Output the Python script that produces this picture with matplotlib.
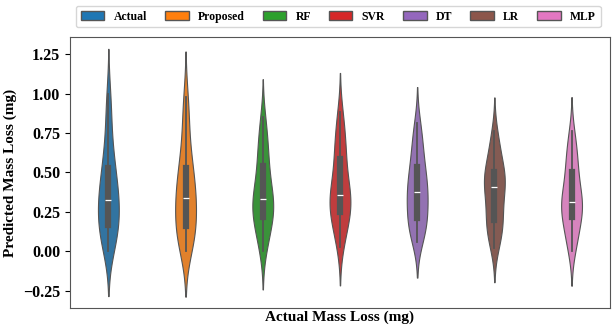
import matplotlib
matplotlib.use("Agg")
import matplotlib.pyplot as plt
import matplotlib.patches as mpatches
import numpy as np
import pandas as pd
import seaborn as sns

# model names shown in legend
models = ["Actual", "Proposed", "RF", "SVR", "DT", "LR", "MLP"]

actual = [0.0, 0.03, 0.07, 0.10, 0.13, 0.15, 0.17, 0.20, 0.23, 0.26, 0.29, 0.31, 0.325,
          0.35, 0.38, 0.41, 0.45, 0.50, 0.53, 0.56, 0.62, 0.70, 0.80, 0.90, 1.00]
proposed = [0.0, 0.02, 0.06, 0.09, 0.12, 0.14, 0.16, 0.19, 0.22, 0.25, 0.29, 0.32, 0.34,
            0.36, 0.39, 0.42, 0.46, 0.50, 0.53, 0.57, 0.63, 0.71, 0.81, 0.90, 0.98]
rf = [0.0, 0.05, 0.10, 0.14, 0.17, 0.20, 0.22, 0.24, 0.26, 0.28, 0.30, 0.32, 0.33,
      0.35, 0.38, 0.41, 0.45, 0.49, 0.54, 0.58, 0.62, 0.67, 0.72, 0.78, 0.85]
svr = [0.03, 0.08, 0.13, 0.17, 0.20, 0.23, 0.25, 0.27, 0.29, 0.31, 0.33, 0.35, 0.36,
       0.38, 0.41, 0.45, 0.49, 0.54, 0.585, 0.62, 0.66, 0.71, 0.76, 0.82, 0.885]
dt = [0.06, 0.09, 0.12, 0.15, 0.17, 0.19, 0.21, 0.24, 0.27, 0.30, 0.33, 0.36, 0.375,
      0.39, 0.41, 0.44, 0.47, 0.50, 0.535, 0.57, 0.61, 0.66, 0.71, 0.76, 0.815]
lr = [0.02, 0.06, 0.10, 0.13, 0.16, 0.18, 0.20, 0.23, 0.26, 0.30, 0.34, 0.38, 0.41,
      0.42, 0.43, 0.45, 0.47, 0.49, 0.50, 0.53, 0.57, 0.61, 0.65, 0.70, 0.76]
mlp = [0.0, 0.04, 0.08, 0.12, 0.15, 0.18, 0.215, 0.24, 0.26, 0.28, 0.29, 0.30, 0.31,
       0.33, 0.36, 0.39, 0.42, 0.46, 0.50, 0.53, 0.57, 0.61, 0.65, 0.70, 0.76]

yticks = [-0.25, 0.0, 0.25, 0.5, 0.75, 1.0, 1.25]

series = [actual, proposed, rf, svr, dt, lr, mlp]
df = pd.DataFrame({
    "Model": np.repeat(models, [len(s) for s in series]),
    "Value": np.concatenate(series),
})

plt.rcParams["font.family"] = ["Liberation Serif", "DejaVu Serif"]
plt.rcParams["font.weight"] = "bold"

palette = sns.color_palette("tab10", len(models))

fig = plt.figure(figsize=(6.12, 3.32), dpi=100)
ax = fig.add_axes([0.114, 0.072, 0.883, 0.817])

sns.violinplot(data=df, x="Model", y="Value", hue="Model", palette=palette,
               order=models, hue_order=models, width=0.27, linewidth=0.8,
               linecolor="#555555", inner_kws=dict(box_width=4.5, whis_width=1.3),
               legend=False, ax=ax)

ax.set_xlim(-0.5, len(models) - 0.5)
ax.set_ylim(-0.36, 1.36)
ax.set_xticks([])
ax.set_yticks(yticks)
ax.set_yticklabels([f"{t:.2f}".replace("-", "\u2212") for t in yticks],
                   fontsize=11.5, fontweight="bold")
ax.set_xlabel("Actual Mass Loss (mg)", fontsize=11, fontweight="bold", labelpad=2)
ax.set_ylabel("Predicted Mass Loss (mg)", fontsize=11, fontweight="bold")
for sp in ax.spines.values():
    sp.set_color("#555555")

handles = [mpatches.Patch(facecolor=c, edgecolor="#555555", label=m)
           for m, c in zip(models, palette)]
fig.legend(handles=handles, loc="upper center", bbox_to_anchor=(0.553, 1.0), ncol=7,
           prop={"weight": "bold", "size": 8.5}, frameon=True, handlelength=2.0,
           columnspacing=1.5, borderpad=0.4)

fig.savefig("out.png", dpi=100)
